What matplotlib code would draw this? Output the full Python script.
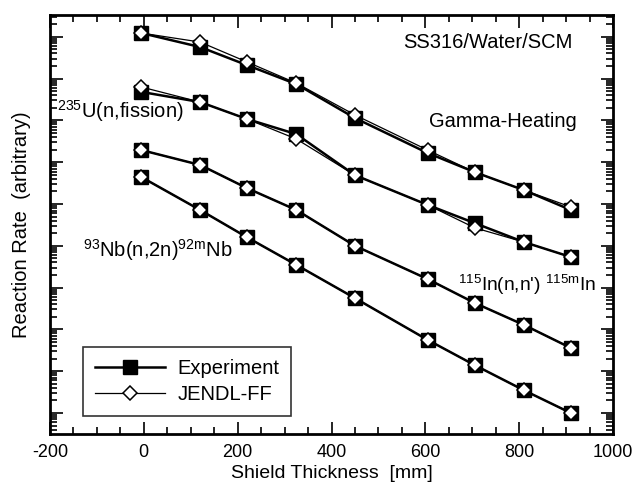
import numpy as np
import matplotlib
matplotlib.use('Agg')
import matplotlib.pyplot as plt
from matplotlib.ticker import NullFormatter, MultipleLocator, LogLocator
plt.rcParams['font.family'] = ['Liberation Sans', 'DejaVu Sans']
plt.rcParams['mathtext.fontset'] = 'custom'
plt.rcParams['mathtext.rm'] = 'Liberation Sans'
plt.rcParams['mathtext.it'] = 'Liberation Sans'
plt.rcParams['axes.unicode_minus'] = False

# shield thickness [mm]
thickness = [-5, 120, 220, 325, 450, 605, 705, 810, 910]

# reaction rates (arbitrary units)
gamma_exp = [1.23e9, 5.7e8, 2.1e8, 7.4e7, 1.14e7, 1.66e6, 5.8e5, 2.15e5, 7.2e4]
gamma_jendl = [1.23e9, 7.5e8, 2.5e8, 7.8e7, 1.35e7, 1.95e6, 5.8e5, 2.15e5, 8.5e4]
u235_exp = [4.8e7, 2.75e7, 1.08e7, 4.7e6, 4.9e5, 9.5e4, 3.5e4, 1.23e4, 5.4e3]
u235_jendl = [6.3e7, 2.75e7, 1.08e7, 3.6e6, 4.9e5, 9.5e4, 2.7e4, 1.23e4, 5.4e3]
in115_exp = [1.95e6, 8.6e5, 2.4e5, 7.2e4, 1.0e4, 1.6e3, 4.3e2, 1.28e2, 36]
in115_jendl = [1.95e6, 8.6e5, 2.4e5, 7.2e4, 1.0e4, 1.6e3, 4.3e2, 1.28e2, 36]
nb93_exp = [4.4e5, 7.2e4, 1.6e4, 3.5e3, 5.6e2, 56, 14, 3.5, 1.0]
nb93_jendl = [4.4e5, 7.2e4, 1.6e4, 3.5e3, 5.6e2, 56, 14, 3.5, 1.0]

fig = plt.figure(figsize=(6.4, 4.87), dpi=100)
ax = fig.add_axes([0.078, 0.109, 0.880, 0.860])

exp_sets = [gamma_exp, u235_exp, in115_exp, nb93_exp]
jendl_sets = [gamma_jendl, u235_jendl, in115_jendl, nb93_jendl]
for i in range(4):
    ax.plot(thickness, exp_sets[i], color='black', lw=1.8, marker='s', ms=9.5,
            mfc='black', mec='black', label='Experiment' if i == 0 else None, zorder=2)
for i in range(4):
    ax.plot(thickness, jendl_sets[i], color='black', lw=0.9, marker='D', ms=7,
            mfc='white', mec='black', mew=1.1, label='JENDL-FF' if i == 0 else None, zorder=3)

ax.set_yscale('log')
ax.set_ylim(10**-0.5, 10**9.52)
ax.set_xlim(-200, 1000)
ax.xaxis.set_major_locator(MultipleLocator(200))
ax.xaxis.set_minor_locator(MultipleLocator(50))
ax.yaxis.set_major_locator(LogLocator(base=10, numticks=20))
ax.yaxis.set_minor_locator(LogLocator(base=10, subs=np.arange(2, 10), numticks=20))
ax.yaxis.set_major_formatter(NullFormatter())
ax.yaxis.set_minor_formatter(NullFormatter())
ax.tick_params(which='both', direction='in', top=True, right=True, width=1.2)
ax.tick_params(which='major', length=9)
ax.tick_params(which='minor', length=5)
ax.tick_params(axis='x', labelsize=13, pad=7)
for s in ax.spines.values():
    s.set_linewidth(2)

fs = 14.5
ax.set_xlabel('Shield Thickness  [mm]', fontsize=14, labelpad=3)
ax.set_ylabel('Reaction Rate  (arbitrary)', fontsize=fs, labelpad=10)

ax.text(0.928, 0.935, 'SS316/Water/SCM', transform=ax.transAxes, fontsize=fs, ha='right', va='center')
ax.text(0.935, 0.745, 'Gamma-Heating', transform=ax.transAxes, fontsize=fs, ha='right', va='center')
ax.text(0.013, 0.77, r'$^{235}$U(n,fission)', transform=ax.transAxes, fontsize=fs, ha='left', va='center')
ax.text(0.058, 0.44, r'$^{93}$Nb(n,2n)$^{92m}$Nb', transform=ax.transAxes, fontsize=fs, ha='left', va='center')
ax.text(0.724, 0.355, r"$^{115}$In(n,n') $^{115m}$In", transform=ax.transAxes, fontsize=13.8, ha='left', va='center')

leg = ax.legend(loc='lower left', bbox_to_anchor=(0.058, 0.042), fontsize=fs, frameon=True,
                fancybox=False, edgecolor='black', handlelength=3.5, borderpad=0.6,
                labelspacing=0.35, handletextpad=0.6, borderaxespad=0)
leg.get_frame().set_linewidth(1.2)

fig.savefig('out.png', dpi=100)
